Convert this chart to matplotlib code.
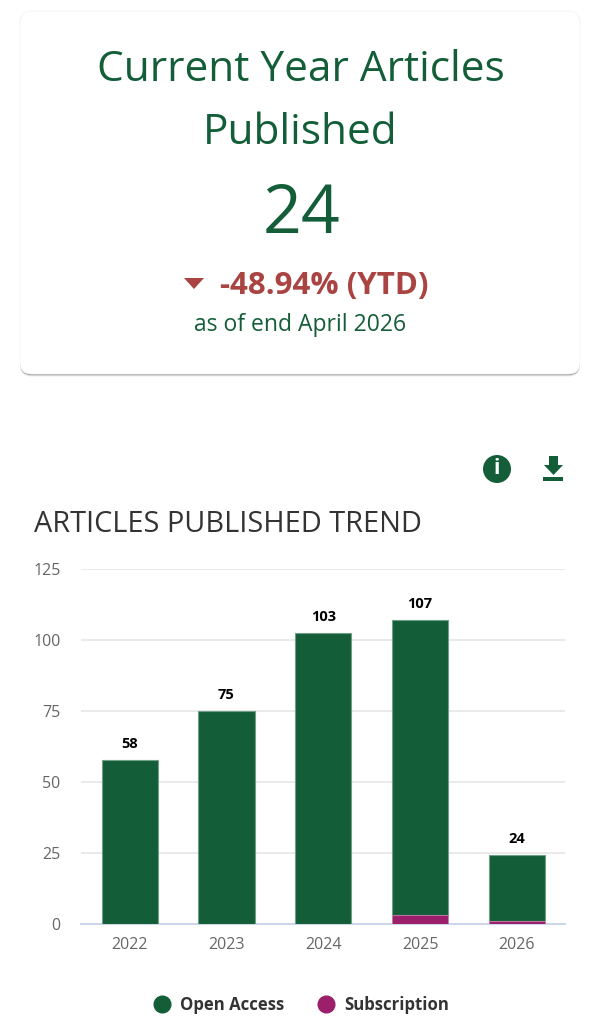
import matplotlib
matplotlib.use("Agg")
import matplotlib.pyplot as plt
from matplotlib.lines import Line2D
from matplotlib.patches import Circle, FancyBboxPatch, Polygon, Rectangle

plt.rcParams['font.family'] = ['Open Sans', 'DejaVu Sans']

# data
years = ["2022", "2023", "2024", "2025", "2026"]
open_access = [57.5, 75, 102.5, 104, 23]
subscription = [0, 0, 0, 3, 1]
totals = [58, 75, 103, 107, 24]
y_ticks = [0, 25, 50, 75, 100, 125]

GREEN = "#135e38"
PURPLE = "#9b1f6b"
RED = "#a94442"

W, H = 599, 1019
fig = plt.figure(figsize=(W / 100, H / 100), dpi=100)

# page layer in pixel coordinates
bg = fig.add_axes([0, 0, 1, 1])
bg.set_xlim(0, W)
bg.set_ylim(H, 0)
bg.axis("off")

# card with soft shadow
for off, a in [(2.5, 0.12), (1.8, 0.25), (1.0, 0.45)]:
    bg.add_patch(FancyBboxPatch((30, 21 + off), 540, 343, boxstyle="round,pad=10,rounding_size=12",
                                fc="#666666", ec="none", alpha=a))
bg.add_patch(FancyBboxPatch((30, 21), 540, 343, boxstyle="round,pad=10,rounding_size=12",
                            fc="white", ec="#f4f4f4", lw=0.6))

bg.text(300.5, 70, "Current Year Articles", color=GREEN, fontsize=30.5, ha="center", va="center")
bg.text(300.5, 133, "Published", color=GREEN, fontsize=30.5, ha="center", va="center")
bg.text(301, 215, "24", color=GREEN, fontsize=49, ha="center", va="center")
bg.text(324.5, 286, "-48.94% (YTD)", color=RED, fontsize=22.5, fontweight="bold", ha="center", va="center")
bg.add_patch(Polygon([(184, 278), (204, 278), (194, 289)], fc=RED, ec="none"))
bg.text(300.5, 325, "as of end April 2026", color=GREEN, fontsize=16.5, ha="center", va="center")

# toolbar icons
bg.add_patch(Circle((497, 469), 14, fc=GREEN, ec="none"))
bg.text(497, 469, "i", color="white", fontsize=15, fontweight="bold", ha="center", va="center")
bg.add_patch(Polygon([(549, 456), (558, 456), (558, 465), (563, 465), (553.5, 475), (544, 465), (549, 465)],
                     fc=GREEN, ec="none"))
bg.add_patch(Rectangle((543, 477), 20, 4, fc=GREEN, ec="none"))

bg.text(34, 525, "ARTICLES PUBLISHED TREND", color="#333333", fontsize=20.8, ha="left", va="center")

# chart
ax = fig.add_axes([81.3 / W, 1 - 923.5 / H, 484 / W, 354.5 / H])
ax.patch.set_alpha(0)
x = range(len(years))
ax.bar(x, open_access, width=0.58, bottom=subscription, color=GREEN, edgecolor="#6f9f87",
       linewidth=0.8, zorder=3)
ax.bar(x, subscription, width=0.58, color=PURPLE, edgecolor="#c47aa8", linewidth=0.6, zorder=3)
for i, t in enumerate(totals):
    ax.annotate(str(t), (i, open_access[i] + subscription[i]), xytext=(0, 9), textcoords="offset pixels",
                ha="center", va="bottom", fontsize=10.5, fontweight="bold", color="black")

ax.set_xlim(-0.5, 4.5)
ax.set_ylim(0, 125)
ax.set_xticks(list(x), years)
ax.set_yticks(y_ticks)
ax.tick_params(axis="both", length=0, labelsize=11.5, labelcolor="#666666")
ax.tick_params(axis="x", pad=10)
ax.tick_params(axis="y", pad=15)
ax.grid(axis="y", color="#e6e6e6", linewidth=1.2, zorder=0)
for side in ["top", "left", "right"]:
    ax.spines[side].set_visible(False)
ax.spines["bottom"].set_color("#ccd6eb")
ax.spines["bottom"].set_linewidth(1.4)

handles = [Line2D([], [], marker="o", ls="none", ms=12, color=GREEN, label="Open Access"),
           Line2D([], [], marker="o", ls="none", ms=12, color=PURPLE, label="Subscription")]
leg = fig.legend(handles=handles, loc="center", bbox_to_anchor=(297 / W, 1 - 1005 / H), ncol=2, frameon=False,
                 prop={"size": 12.1, "weight": "bold"}, handletextpad=0.1, columnspacing=1.45)
for t in leg.get_texts():
    t.set_color("#333333")

fig.savefig("out.png", dpi=100, facecolor="white")
